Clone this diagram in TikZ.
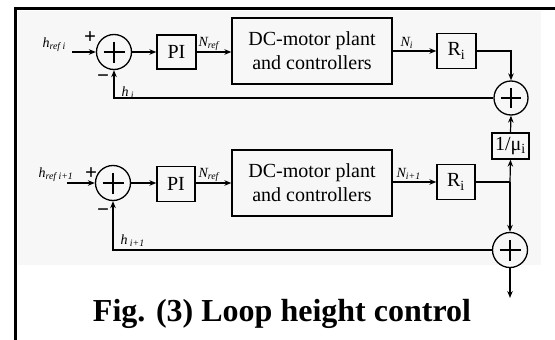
\documentclass[tikz,border=0pt]{standalone}
\usepackage{fontspec}
\setmainfont{Liberation Serif}
\usetikzlibrary{arrows.meta,calc}
\begin{document}
\begin{tikzpicture}[x=1pt,y=-1pt,
  line width=1.2pt,
  arr/.style={-{Stealth[length=7pt,width=5.5pt]}},
  blk/.style={draw,line width=1.3pt,inner sep=0pt,font=\fontsize{20}{24}\selectfont,align=center},
  sumnode/.style={draw,circle,line width=1.3pt,minimum size=#1,inner sep=0pt,
    path picture={\draw[line width=1.3pt] ($(path picture bounding box.center)+(-0.3*#1,0)$) -- ($(path picture bounding box.center)+(0.3*#1,0)$)
      ($(path picture bounding box.center)+(0,-0.3*#1)$) -- ($(path picture bounding box.center)+(0,0.3*#1)$);}},
  lbl/.style={font=\fontsize{14}{14}\selectfont\itshape,inner sep=0pt},
  sgn/.style={font=\fontsize{21}{21}\selectfont\bfseries,inner sep=0pt}
]
\useasboundingbox (0,0) rectangle (555,340);
\fill[black!3] (18,11) rectangle (541,265);
% frame
\draw[line width=3pt] (555,8) -- (15,8) -- (15,340);

% upper row
\node[sumnode=35pt] (s1) at (114,52) {};
\node[blk,minimum width=39pt,minimum height=34pt] (pi1) at (176.5,52) {PI};
\node[blk,minimum width=160pt,minimum height=66pt] (dc1) at (312,51) {DC-motor plant\\and controllers};
\node[blk,minimum width=39pt,minimum height=35pt] (r1) at (456.5,51) {R\textsubscript{i}};
\node[sumnode=34pt] (sr1) at (511,98) {};
\node[blk,minimum width=37pt,minimum height=26pt] (mu) at (510.5,146) {1/μ\textsubscript{i}};

% lower row
\node[sumnode=35pt] (s2) at (113,183) {};
\node[blk,minimum width=38pt,minimum height=35pt] (pi2) at (176,184) {PI};
\node[blk,minimum width=160pt,minimum height=66pt] (dc2) at (312,183) {DC-motor plant\\and controllers};
\node[blk,minimum width=38pt,minimum height=35pt] (r2) at (456,182) {R\textsubscript{i}};
\node[sumnode=35pt] (sr2) at (510,250) {};

\coordinate (in1) at (72,52);
\coordinate (in2) at (67,183);
\coordinate (j) at (510,182);
\coordinate (out) at (510,298);

% upper connections
\draw[arr] (in1) -- (s1.west);
\draw[arr] (s1.east) -- (pi1.west);
\draw[arr] (pi1.east) -- (pi1.east -| dc1.west);
\draw[arr] (dc1.east |- r1.west) -- (r1.west);
\draw[arr] (r1.east) -| (sr1.north);
\draw[arr] (sr1.west) -| (s1.south);
\draw[arr] (mu.north) -- (sr1.south);

% lower connections
\draw[arr] (in2) -- (s2.west);
\draw[arr] (s2.east) -- (s2.east -| pi2.west);
\draw[arr] (pi2.east |- s2.east) -- (s2.east -| dc2.west);
\draw[arr] (dc2.east |- r2.west) -- (r2.west);
\draw (r2.east) -- (j);
\draw[arr] (j) -- (mu.south);
\draw[arr] (j) -- (sr2.north);
\draw[arr] (sr2.west) -| (s2.south);
\draw[arr] (sr2.south) -- (out);

% labels
\node[lbl,anchor=base west] (lh1) at (42,47) {h\textsubscript{ref i}};
\node[sgn] (p1) at (90,38) {+};
\node[sgn] (m1) at (103,79) {−};
\node[lbl,anchor=base west] (hi) at (121,96) {h\,\textsubscript{i}};
\node[lbl,anchor=base west] (nr1) at (198,46) {N\textsubscript{ref}};
\node[lbl,anchor=base west] (ni) at (400,46) {N\textsubscript{i}};

\node[lbl,anchor=base west] (lh2) at (38,177) {h\textsubscript{ref i+1}};
\node[sgn] (p2) at (91,174) {+};
\node[sgn] (m2) at (103,213) {−};
\node[lbl,anchor=base west] (hi2) at (120,244) {h\,\textsubscript{i+1}};
\node[lbl,anchor=base west] (nr2) at (198,177) {N\textsubscript{ref}};
\node[lbl,anchor=base west] (ni2) at (396,177) {N\textsubscript{i+1}};

\node[font=\fontsize{32}{32}\selectfont\bfseries,anchor=base,inner sep=0pt] (cap) at (282,321) {Fig. (3) Loop height control};
\end{tikzpicture}
\end{document}
